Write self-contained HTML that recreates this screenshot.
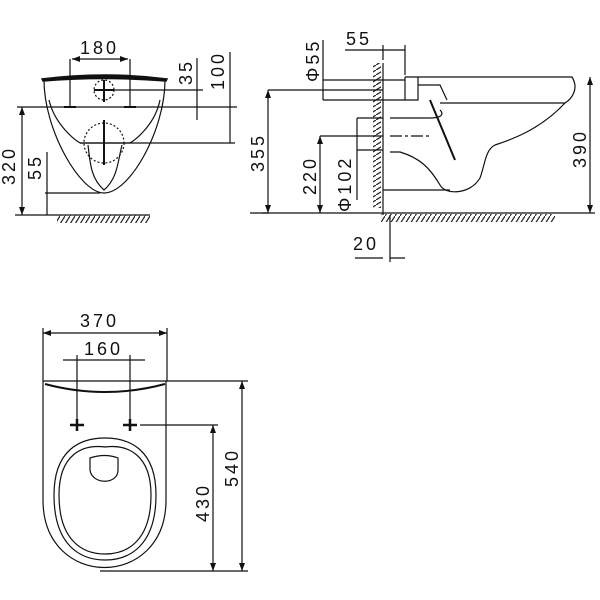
<!DOCTYPE html>
<html><head><meta charset="utf-8"><style>
html,body{margin:0;padding:0;background:#fff;width:600px;height:600px;overflow:hidden}
svg text{font-family:"Liberation Sans",sans-serif;font-size:18px;fill:#111;letter-spacing:3px}
</style></head><body>
<svg width="600" height="600" viewBox="0 0 600 600" xmlns="http://www.w3.org/2000/svg">
<defs>
<pattern id="h" width="5" height="8" patternUnits="userSpaceOnUse"><path d="M0 8 L5 0" stroke="#222" stroke-width="1.2"/></pattern>
<pattern id="hv" width="8" height="5" patternUnits="userSpaceOnUse"><path d="M0 5 L8 0" stroke="#222" stroke-width="1.2"/></pattern>
<marker id="a" markerWidth="8" markerHeight="6" refX="8" refY="3" orient="auto-start-reverse" markerUnits="userSpaceOnUse"><path d="M0 0 L8 3 L0 6" fill="#111"/></marker>
</defs>
<g fill="none" stroke="#111" stroke-width="1.2">
<!-- FRONT VIEW -->
<path d="M42 79 Q105 71 167 79 L166 81 Q105 76 43 81 Z" fill="#111" stroke-width="1.5"/>
<path d="M44 80 C44 130 80 193 104 193 C130 193 165 130 165 80"/>
<path d="M49 100 C55 125 75 140 80 143 M160 100 C155 125 135 140 130 143"/>
<path d="M80 143 L130 143 M88 145 C90 160 90 178 104 190 C118 178 118 160 122 145"/>
<circle cx="104" cy="143" r="20" stroke-dasharray="2,2"/>
<circle cx="104" cy="90" r="10" stroke-dasharray="2,2"/>
<path d="M104 120 V165 M94 90 H114 M104 80 V102 M64 107 H76 M124 107 H136" stroke-width="2"/>
<path d="M17 107 H237 M100 90 H203 M80 143 H235 M45 193 H100"/>
<path d="M70 59 V107 M130 59 V107"/>
<path d="M72 59 H128" marker-start="url(#a)" marker-end="url(#a)"/>
<path d="M197 58 V120"/><path d="M230 52 V143"/>
<path d="M22 107 V215" marker-start="url(#a)" marker-end="url(#a)"/>
<path d="M47 152 V215"/>
<path d="M15 215 H150"/>
<rect x="57" y="215" width="93" height="8" fill="url(#h)" stroke="none"/>
<!-- SIDE VIEW -->
<rect x="373" y="63" width="8" height="145" fill="url(#hv)" stroke="none"/>
<path d="M383 63 V215 M390 215 V262"/>
<path d="M262 213 H595"/>
<rect x="381" y="214" width="174" height="8" fill="url(#h)" stroke="none"/>
<path d="M405 77 H572 C580 90 570 100 565 103 H440"/>
<path d="M565 103 C540 130 510 140 495 145 C485 150 485 165 480 178 C470 195 445 195 440 185 C430 168 420 158 400 152 H390"/>
<path d="M390 118 H430 C440 118 445 115 440 110 M383 190 H450"/>
<path d="M405 77 V100 H418 V77 M418 85 H440 L447 100"/>
<path d="M430 100 L455 160" stroke-width="2"/>
<path d="M383 90 H268 M250 213 H268 M323 80 H405 M323 100 H405 M357 118 H383 M357 150 H383 M320 136 H383"/>
<path d="M390 136 H430" stroke-dasharray="12,3,3,3"/>
<path d="M590 77 V213" marker-start="url(#a)" marker-end="url(#a)"/>
<path d="M268 90 V213" marker-start="url(#a)" marker-end="url(#a)"/>
<path d="M320 136 V213" marker-start="url(#a)" marker-end="url(#a)"/>
<path d="M357 118 V200"/>
<path d="M323 40 V100"/>
<path d="M345 50 H405 M383 45 V60 M405 45 V75"/>
<path d="M355 258 H383 M390 258 H405"/>
<!-- PLAN VIEW -->
<path d="M43 333 H167" marker-start="url(#a)" marker-end="url(#a)"/>
<path d="M43 328 V381 M167 328 V381"/>
<path d="M63 360 H145 M77 355 V425 M130 355 V425"/>
<path d="M43 381 H248"/>
<path d="M45 384 Q105 400 165 384" stroke-width="2"/>
<path d="M43 381 V500 C43 590 166 590 166 500 V381"/>
<path d="M70 425 H84 M77 419 V431 M123 425 H137 M130 419 V431" stroke-width="2.5"/>
<path d="M140 425 H218"/>
<path d="M54 495 C54 450 80 438 105 438 C130 438 156 450 156 495 C156 545 130 560 105 560 C80 560 54 545 54 495 Z"/>
<path d="M59 495 C59 455 82 444 105 447 C128 444 151 455 151 495 C151 540 128 554 105 554 C82 554 59 540 59 495 Z"/>
<path d="M90 458 Q105 453 118 458 L118 470 C118 485 92 485 90 470 Z"/>
<path d="M213 425 V571" marker-start="url(#a)" marker-end="url(#a)"/>
<path d="M242 381 V571" marker-start="url(#a)" marker-end="url(#a)"/>
<path d="M100 571 H248"/>
</g>
<text x="80" y="54">180</text>
<text transform="translate(192,85) rotate(-90)">35</text>
<text transform="translate(224,90) rotate(-90)">100</text>
<text transform="translate(15,185) rotate(-90)">320</text>
<text transform="translate(41,180) rotate(-90)">55</text>
<text x="346" y="45">55</text>
<text transform="translate(319,82) rotate(-90)">Φ55</text>
<text transform="translate(264,172) rotate(-90)">355</text>
<text transform="translate(316,195) rotate(-90)">220</text>
<text transform="translate(351,212) rotate(-90)">Φ102</text>
<text transform="translate(586,168) rotate(-90)">390</text>
<text x="353" y="250">20</text>
<text x="80" y="327">370</text>
<text x="84" y="355">160</text>
<text transform="translate(209,522) rotate(-90)">430</text>
<text transform="translate(238,487) rotate(-90)">540</text>
</svg>
</body></html>
